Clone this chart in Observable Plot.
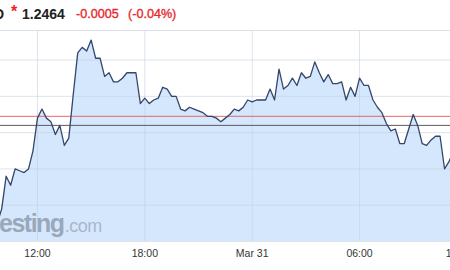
<!DOCTYPE html>
<html><head><meta charset="utf-8">
<script src="https://cdn.jsdelivr.net/npm/d3@7"></script>
<script src="https://cdn.jsdelivr.net/npm/@observablehq/plot@0.6"></script>
<style>
html,body{margin:0;padding:0;background:#fff;overflow:hidden;}
#wrap{position:relative;width:450px;height:270px;overflow:hidden;font-family:"Liberation Sans",Arial,sans-serif;}
#hdr{position:relative;height:29px;white-space:nowrap;}
#hdr span{position:absolute;line-height:1;}
#hdr .red{color:#e8262b;-webkit-text-stroke:0.35px #e8262b;}
#wm{position:absolute;left:-1px;top:211px;white-space:nowrap;font-size:25px;line-height:1;pointer-events:none;}
</style>
</head><body>
<div id="wrap">
  <div id="hdr">
    <span style="left:-6px;top:7px;font-size:14px;font-weight:bold;color:#222">D</span>
    <span style="left:11px;top:4px;font-size:16px;font-weight:bold;color:#e8262b">*</span>
    <span style="left:22px;top:7px;font-size:14px;font-weight:bold;color:#222">1.2464</span>
    <span class="red" style="left:76px;top:8px;font-size:12.6px">-0.0005</span>
    <span class="red" style="left:128px;top:8px;font-size:12.6px">(-0.04%)</span>
  </div>
  <div id="chart"></div>
  <div id="wm"><span style="font-weight:bold;letter-spacing:-1.5px;color:rgba(135,148,165,0.75)">esting</span><span style="font-size:18px;letter-spacing:-0.5px;margin-left:1px;color:rgba(150,160,175,0.7)">.com</span></div>
</div>
<script>
const times = [
"2017-03-30T09:45","2017-03-30T10:00","2017-03-30T10:15","2017-03-30T10:30","2017-03-30T10:45",
"2017-03-30T11:00","2017-03-30T11:15","2017-03-30T11:30","2017-03-30T11:45",
"2017-03-30T12:00","2017-03-30T12:15","2017-03-30T12:30","2017-03-30T12:45",
"2017-03-30T13:00","2017-03-30T13:15","2017-03-30T13:30","2017-03-30T13:45",
"2017-03-30T14:00","2017-03-30T14:15","2017-03-30T14:30","2017-03-30T14:45",
"2017-03-30T15:00","2017-03-30T15:15","2017-03-30T15:30","2017-03-30T15:45",
"2017-03-30T16:00","2017-03-30T16:15","2017-03-30T16:30","2017-03-30T16:45",
"2017-03-30T17:00","2017-03-30T17:15","2017-03-30T17:30","2017-03-30T17:45",
"2017-03-30T18:00","2017-03-30T18:15","2017-03-30T18:30","2017-03-30T18:45",
"2017-03-30T19:00","2017-03-30T19:15","2017-03-30T19:30","2017-03-30T19:45",
"2017-03-30T20:00","2017-03-30T20:15","2017-03-30T20:30","2017-03-30T20:45",
"2017-03-30T21:00","2017-03-30T21:15","2017-03-30T21:30","2017-03-30T21:45",
"2017-03-30T22:00","2017-03-30T22:15","2017-03-30T22:30","2017-03-30T22:45",
"2017-03-30T23:00","2017-03-30T23:15","2017-03-30T23:30","2017-03-30T23:45",
"2017-03-31T00:00","2017-03-31T00:15","2017-03-31T00:30","2017-03-31T00:45",
"2017-03-31T01:00","2017-03-31T01:15","2017-03-31T01:30","2017-03-31T01:45",
"2017-03-31T02:00","2017-03-31T02:15","2017-03-31T02:30","2017-03-31T02:45",
"2017-03-31T03:00","2017-03-31T03:15","2017-03-31T03:30","2017-03-31T03:45",
"2017-03-31T04:00","2017-03-31T04:15","2017-03-31T04:30","2017-03-31T04:45",
"2017-03-31T05:00","2017-03-31T05:15","2017-03-31T05:30","2017-03-31T05:45",
"2017-03-31T06:00","2017-03-31T06:15","2017-03-31T06:30","2017-03-31T06:45",
"2017-03-31T07:00","2017-03-31T07:15","2017-03-31T07:30","2017-03-31T07:45",
"2017-03-31T08:00","2017-03-31T08:15","2017-03-31T08:30","2017-03-31T08:45",
"2017-03-31T09:00","2017-03-31T09:15","2017-03-31T09:30","2017-03-31T09:45",
"2017-03-31T10:00","2017-03-31T10:15","2017-03-31T10:30","2017-03-31T10:45",
"2017-03-31T11:00","2017-03-31T11:15"
];
const prices = [
1.2410,1.2418,1.2436,1.2431,1.2440,
1.2439,1.2438,1.2440,1.2450,
1.2468,1.2473,1.2468,1.2466,
1.2459,1.2464,1.2453,1.2457,
1.2481,1.2504,1.2507,1.2505,
1.2511,1.2501,1.2501,1.2491,
1.2493,1.2488,1.2488,1.2490,
1.2493,1.2493,1.2493,1.2476,
1.2479,1.2476,1.2478,1.2479,
1.2485,1.2484,1.2480,1.2480,
1.2473,1.2472,1.2474,1.2473,
1.2472,1.2471,1.2469,1.2469,
1.2468,1.2466,1.2468,1.2470,
1.2473,1.2472,1.2474,1.2478,
1.2477,1.2478,1.2478,1.2478,
1.2484,1.2478,1.2495,1.2484,
1.2486,1.2490,1.2486,1.2493,
1.2490,1.2491,1.2499,1.2493,
1.2488,1.2492,1.2487,1.2487,
1.2488,1.2478,1.2485,1.2480,
1.2490,1.2486,1.2486,1.2478,
1.2474,1.2471,1.2465,1.2461,
1.2462,1.2454,1.2454,1.2462,
1.2470,1.2464,1.2454,1.2453,
1.2456,1.2458,1.2458,1.2440,
1.2444,1.2450
];
const tickTimes = ["2017-03-30T12:00","2017-03-30T18:00","2017-03-31T00:00","2017-03-31T06:00"];
const tickLabels = ["12:00","18:00","Mar 31","06:00"];
const lastTickTime = "2017-03-31T12:00";
const lastTickLabel = "12:00";
const yGrid = [1.2400,1.2420,1.2440,1.2460,1.2480,1.2500];
const prevClose = 1.2469;
const lastPrice = 1.2464;
const xDomain = ["2017-03-30T09:56","2017-03-31T11:05"];
const yDomain = [1.2400,1.25163];

const data = times.map((t,i)=>({t:new Date(t), p:prices[i]}));
const ticks = tickTimes.map((t,i)=>({t:new Date(t), label:tickLabels[i]}));
const gridT = tickTimes.concat([lastTickTime]).map(t=>new Date(t));

const plot = Plot.plot({
  width:450, height:241,
  marginTop:1, marginBottom:29, marginLeft:0, marginRight:0,
  style:{background:"transparent", fontFamily:"'Liberation Sans', Arial, sans-serif"},
  x:{type:"time", domain:xDomain.map(d=>new Date(d)), axis:null},
  y:{domain:yDomain, axis:null},
  marks:[
    Plot.areaY(data,{x:"t", y:"p", fill:"#d5e7fc", clip:true}),
    Plot.ruleX(gridT,{stroke:"#c3cddc", strokeOpacity:0.55, clip:true}),
    Plot.ruleY(yGrid,{stroke:"#c3cddc", strokeOpacity:0.55}),
    Plot.ruleY([yDomain[1]],{stroke:"#dde2ea"}),
    Plot.ruleY([prevClose],{stroke:"#df6a6a", strokeWidth:1}),
    Plot.ruleY([lastPrice],{stroke:"#5a5a5a", strokeWidth:1}),
    Plot.lineY(data,{x:"t", y:"p", stroke:"#35466c", strokeWidth:1.3, clip:true}),
    Plot.text(ticks,{x:"t", text:"label", frameAnchor:"bottom", dy:15, fontSize:10.5, fill:"#333"}),
    Plot.text([{t:new Date(lastTickTime), label:lastTickLabel}],{x:"t", text:"label", frameAnchor:"bottom", dy:15, dx:-8, fontSize:10.5, fill:"#333"})
  ]
});
document.getElementById("chart").appendChild(plot);
</script>
</body></html>
